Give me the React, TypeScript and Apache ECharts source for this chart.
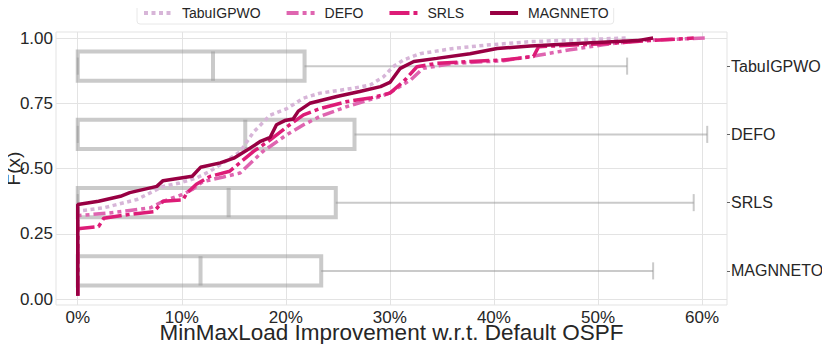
import React, { useEffect, useRef } from "react";
import * as echarts from "echarts";

// ---- data ----
const methods = ["TabuIGPWO", "DEFO", "SRLS", "MAGNNETO"];
const boxCategories = ["MAGNNETO", "SRLS", "DEFO", "TabuIGPWO"]; // bottom -> top
const xTicks = [0, 10, 20, 30, 40, 50, 60];
const yTicks = [0, 0.25, 0.5, 0.75, 1.0];

// box statistics (percent), order of boxCategories
const boxMin = [0, 0, 0, 0];
const boxQ1 = [0, 0, 0, 0];
const boxMedian = [11.8, 14.5, 16.1, 13.0];
const boxQ3 = [23.4, 24.8, 26.6, 21.8];
const boxMax = [55.3, 59.2, 60.5, 52.8];

// empirical CDF points [improvement %, F(x)]
const tabuCdf = [
  [0, 0.013], [0, 0.337], [2.5, 0.35], [5.7, 0.382], [8.2, 0.432], [9.8, 0.445],
  [11.4, 0.464], [12.7, 0.49], [14.3, 0.53], [15.6, 0.565], [16.9, 0.64], [18.5, 0.705],
  [20.1, 0.73], [21.7, 0.77], [23.3, 0.789], [26.5, 0.808], [28.1, 0.82], [29.4, 0.852],
  [30.3, 0.89], [31.3, 0.916], [32.9, 0.94], [36.1, 0.96], [39.3, 0.973], [43.5, 0.986],
  [48.0, 0.993], [52.8, 1.0],
];
const defoCdf = [
  [0, 0.013], [0, 0.32], [3.0, 0.33], [5.0, 0.34], [7.0, 0.35], [8.2, 0.375], [10.0, 0.40],
  [11.0, 0.42], [12.0, 0.45], [14.0, 0.468], [15.6, 0.483], [17.8, 0.566], [20.1, 0.63],
  [21.7, 0.668], [23.3, 0.70], [25.9, 0.738], [29.1, 0.776], [30.0, 0.79], [32.0, 0.84],
  [33.2, 0.884], [36.1, 0.903], [40.9, 0.913], [43.5, 0.929], [47.3, 0.955], [50.5, 0.974],
  [53.8, 0.99], [60.5, 1.0],
];
const srlsCdf = [
  [0, 0.013], [0, 0.27], [2.0, 0.278], [2.5, 0.31], [5.0, 0.325], [7.3, 0.335], [8.2, 0.375],
  [10.1, 0.38], [10.5, 0.407], [11.4, 0.44], [12.7, 0.47], [14.6, 0.49], [16.9, 0.566],
  [18.5, 0.61], [20.1, 0.66], [21.7, 0.706], [23.3, 0.73], [25.9, 0.757], [28.1, 0.77],
  [30.0, 0.789], [31.3, 0.833], [32.6, 0.89], [34.5, 0.903], [37.7, 0.91], [40.9, 0.916],
  [43.8, 0.929], [44.3, 0.967], [50.0, 0.977], [55.0, 0.99], [59.2, 1.0],
];
const magnnetoCdf = [
  [0, 0.013], [0, 0.363], [2.0, 0.375], [4.1, 0.394], [5.0, 0.408], [7.6, 0.432], [8.2, 0.454],
  [11.0, 0.471], [11.8, 0.505], [13.7, 0.522], [15.0, 0.54], [16.2, 0.569], [17.5, 0.603],
  [18.5, 0.62], [19.1, 0.668], [19.9, 0.684], [20.7, 0.69], [21.2, 0.72], [22.3, 0.75],
  [24.9, 0.776], [27.1, 0.795], [29.1, 0.814], [30.0, 0.83], [31.0, 0.884], [32.3, 0.91],
  [34.5, 0.922], [37.7, 0.94], [40.3, 0.96], [43.5, 0.969], [48.9, 0.981], [53.8, 0.99],
  [55.3, 1.0],
];

const cdfs = [tabuCdf, defoCdf, srlsCdf, magnnetoCdf];
const colors = ["#d7b5d8", "#df65b0", "#dd1c77", "#980043"];
const dashes: any[] = [[4, 3.5], [12, 4, 4, 4, 4, 4], [20, 4, 4, 4], "solid"];

const FONT = "'Liberation Sans', Arial, sans-serif";

export default function App() {
  const ref = useRef<HTMLDivElement>(null);
  useEffect(() => {
    if (!ref.current) return;
    const chart = echarts.init(ref.current, null, { renderer: "svg" });
    const boxData = boxCategories.map((_, i) => [i, boxMin[i], boxQ1[i], boxMedian[i], boxQ3[i], boxMax[i]]);
    const boxStroke = "rgba(150,150,150,0.5)";
    const option: any = {
      animation: false,
      textStyle: { fontFamily: FONT },
      legend: {
        data: methods,
        left: 137,
        top: 2,
        padding: [4, 5],
        itemWidth: 28,
        itemHeight: 14,
        itemGap: 24,
        borderColor: "#e8e8e8",
        borderWidth: 1,
        borderRadius: 3,
        lineStyle: { width: 4 },
        itemStyle: { opacity: 0 },
        textStyle: { fontSize: 14, color: "#262626", fontFamily: FONT, padding: [0, 0, 0, 5] },
      },
      grid: {
        left: 56,
        right: 103,
        top: 32,
        bottom: 39,
        containLabel: false,
        outerBoundsMode: "none",
        show: true,
        borderColor: "#e3e3e3",
        borderWidth: 1,
        backgroundColor: "#fff",
      },
      xAxis: {
        type: "value",
        min: -2.09,
        max: 62.4,
        name: "MinMaxLoad Improvement w.r.t. Default OSPF",
        nameLocation: "middle",
        nameGap: 19.5,
        nameMoveOverlap: false,
        nameTextStyle: {
          fontSize: 22.5,
          color: "#262626",
          fontFamily: FONT,
          verticalAlign: "top",
          lineHeight: 15.5,
        },
        axisLine: { show: false },
        axisTick: { show: false, customValues: xTicks },
        axisLabel: {
          customValues: xTicks,
          formatter: (v: number) => `${Math.round(v)}%`,
          fontSize: 17,
          lineHeight: 14,
          color: "#262626",
          margin: 5.5,
        },
        splitLine: { show: true, lineStyle: { color: "#e3e3e3", width: 1 } },
      },
      yAxis: [
        {
          type: "value",
          min: -0.022,
          max: 1.023,
          name: "F(x)",
          nameLocation: "middle",
          nameGap: 33,
          nameMoveOverlap: false,
          nameTextStyle: { fontSize: 19, color: "#262626", fontFamily: FONT },
          axisLine: { show: false },
          axisTick: { show: false, customValues: yTicks },
          axisLabel: {
            customValues: yTicks,
            formatter: (v: number) => v.toFixed(2),
            fontSize: 17,
            color: "#262626",
            margin: 3,
          },
          splitLine: { show: true, lineStyle: { color: "#e3e3e3", width: 1 } },
        },
        {
          type: "category",
          data: boxCategories,
          position: "right",
          boundaryGap: true,
          axisLine: { show: false },
          axisTick: { show: true, alignWithLabel: true, length: 3, lineStyle: { color: "#666" } },
          axisLabel: { fontSize: 16, color: "#262626", margin: 4 },
          splitLine: { show: false },
        },
      ],
      series: [
        {
          type: "custom",
          name: "box",
          xAxisIndex: 0,
          yAxisIndex: 1,
          z: 1,
          encode: { x: [1, 2, 3, 4, 5], y: 0 },
          data: boxData,
          renderItem: (params: any, api: any) => {
            const cat = api.value(0);
            const lo = api.coord([api.value(1), cat]);
            const q1 = api.coord([api.value(2), cat]);
            const med = api.coord([api.value(3), cat]);
            const q3 = api.coord([api.value(4), cat]);
            const hi = api.coord([api.value(5), cat]);
            const band = api.size([0, 1])[1];
            const hb = band * 0.215;
            const hc = band * 0.125;
            const y = q1[1];
            return {
              type: "group",
              children: [
                {
                  type: "rect",
                  shape: { x: q1[0], y: y - hb, width: q3[0] - q1[0], height: 2 * hb },
                  style: { fill: "none", stroke: boxStroke, lineWidth: 4 },
                },
                {
                  type: "line",
                  shape: { x1: med[0], y1: y - hb, x2: med[0], y2: y + hb },
                  style: { stroke: boxStroke, lineWidth: 4 },
                },
                {
                  type: "line",
                  shape: { x1: q3[0], y1: y, x2: hi[0], y2: y },
                  style: { stroke: boxStroke, lineWidth: 2 },
                },
                {
                  type: "line",
                  shape: { x1: hi[0], y1: y - hc, x2: hi[0], y2: y + hc },
                  style: { stroke: boxStroke, lineWidth: 2 },
                },
                {
                  type: "line",
                  shape: { x1: lo[0], y1: y - hc, x2: lo[0], y2: y + hc },
                  style: { stroke: boxStroke, lineWidth: 2 },
                },
              ],
            };
          },
        },
        ...methods.map((m, i) => ({
          type: "line",
          name: m,
          xAxisIndex: 0,
          yAxisIndex: 0,
          data: cdfs[i],
          symbol: "none",
          z: 2 + i,
          lineStyle: { color: colors[i], width: 3.5, type: dashes[i] },
          itemStyle: { color: colors[i] },
        })),
      ],
    };
    chart.setOption(option);
    return () => chart.dispose();
  }, []);
  return <div ref={ref} style={{ width: 830, height: 344, marginLeft: -8, marginTop: -8 }} />;
}
